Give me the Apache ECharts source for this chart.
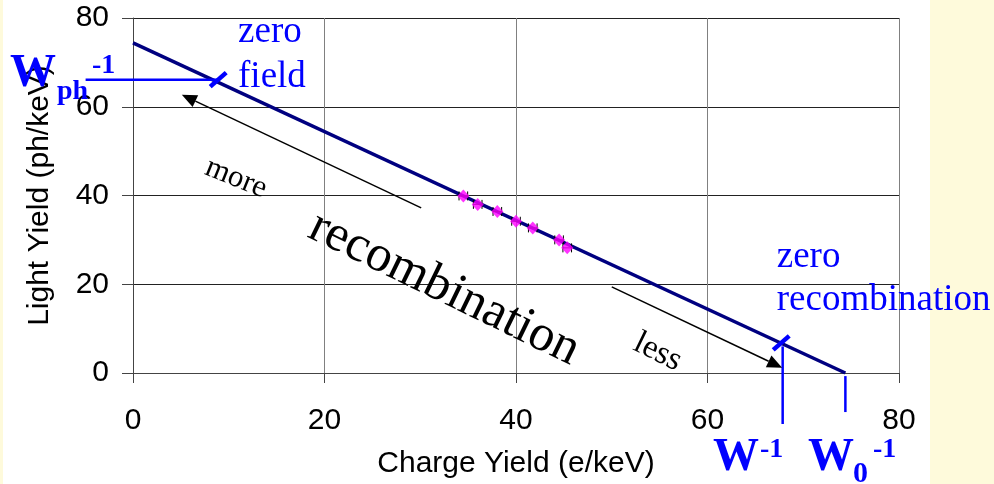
<!DOCTYPE html>
<html>
<head>
<meta charset="utf-8">
<script src="https://cdn.jsdelivr.net/npm/echarts@6/dist/echarts.min.js"></script>
<style>
  html, body { margin: 0; padding: 0; background: #ffffff; }
  #chart { width: 994px; height: 484px; }
</style>
</head>
<body>
<div id="chart"></div>
<script>
// Axis ranges and ticks
const xTicks = [0, 20, 40, 60, 80];
const yTicks = [0, 20, 40, 60, 80];

// Measured light vs charge yield points and horizontal error
const chargeYield = [34.5, 36.0, 38.05, 40.0, 41.75, 44.5, 45.35];
const lightYield  = [39.9, 38.0, 36.4, 34.2, 32.7, 30.0, 28.2];
const chargeErr   = [0.45, 0.45, 0.45, 0.45, 0.45, 0.45, 0.45];

// Anti-correlation line: intercepts on both axes
const fitX = [0, 74.4];
const fitY = [74.4, 0];

// Special points on the line: zero field and zero recombination
const zeroFieldPt = [8.9, 66.1];
const zeroRecombPt = [67.7, 6.8];

// Guide lines to the W labels [x1, y1, x2, y2]
const guideLines = [
  [-4.95, 66.1, 8.9, 66.1],
  [67.85, 6.0, 67.85, -11.5],
  [74.4, -0.7, 74.4, -8.8]
];

// Arrows [tailX, tailY, tipX, tipY]
const arrows = [
  [30.1, 37.2, 5.1, 62.7],
  [50.0, 19.4, 67.8, 1.2]
];

const SERIF = '"Liberation Serif", "Times New Roman", serif';
const SANS = '"Liberation Sans", Arial, sans-serif';
const BLUE = '#0000ff';

const chart = echarts.init(document.getElementById('chart'), null, { renderer: 'canvas' });

const points = chargeYield.map((x, i) => [x, lightYield[i], chargeErr[i]]);

const option = {
  animation: false,
  backgroundColor: '#ffffff',
  grid: { left: 133, top: 18, width: 766, height: 355, containLabel: false },
  xAxis: {
    type: 'value',
    min: xTicks[0], max: xTicks[xTicks.length - 1], interval: xTicks[1] - xTicks[0],
    name: 'Charge Yield (e/keV)',
    nameLocation: 'middle', nameGap: 76,
    nameTextStyle: { fontFamily: SANS, fontSize: 30, color: '#000' },
    axisLine: { show: true, onZero: false, lineStyle: { color: '#444', width: 1 } },
    axisTick: { show: true, inside: false, length: 10, lineStyle: { color: '#444' } },
    axisLabel: { fontFamily: SANS, fontSize: 30, color: '#000', margin: 33 },
    splitLine: { show: true, lineStyle: { color: '#808080', width: 1 } }
  },
  yAxis: {
    type: 'value',
    min: yTicks[0], max: yTicks[yTicks.length - 1], interval: yTicks[1] - yTicks[0],
    name: 'Light Yield (ph/keV)',
    nameLocation: 'middle', nameGap: 78, nameRotate: 90,
    nameTextStyle: { fontFamily: SANS, fontSize: 30, color: '#000' },
    axisLine: { show: true, onZero: false, lineStyle: { color: '#444', width: 1 } },
    axisTick: { show: true, inside: false, length: 11, lineStyle: { color: '#444' } },
    axisLabel: { fontFamily: SANS, fontSize: 30, color: '#000', margin: 24 },
    splitLine: { show: true, lineStyle: { color: '#222', width: 1 } }
  },
  series: [
    {
      type: 'line',
      data: fitX.map((x, i) => [x, fitY[i]]),
      symbol: 'none',
      lineStyle: { color: '#000080', width: 3.5 },
      z: 3
    },
    {
      type: 'custom',
      data: points,
      z: 4,
      renderItem: function (params, api) {
        const x = api.value(0), y = api.value(1), e = api.value(2);
        const pl = api.coord([x - e, y]);
        const pr = api.coord([x + e, y]);
        const c = 4.5;
        const st = { stroke: '#000', lineWidth: 1 };
        return {
          type: 'group',
          children: [
            { type: 'line', shape: { x1: pl[0], y1: pl[1], x2: pr[0], y2: pr[1] }, style: st },
            { type: 'line', shape: { x1: pl[0], y1: pl[1] - c, x2: pl[0], y2: pl[1] + c }, style: st },
            { type: 'line', shape: { x1: pr[0], y1: pr[1] - c, x2: pr[0], y2: pr[1] + c }, style: st }
          ]
        };
      }
    },
    {
      type: 'scatter',
      data: points.map(p => [p[0], p[1]]),
      symbol: 'diamond',
      symbolSize: [12, 13],
      itemStyle: { color: '#ff00ff' },
      z: 5
    },
    {
      // blue guide lines from the special points to the W labels
      type: 'custom',
      data: guideLines,
      clip: false,
      z: 6,
      renderItem: function (params, api) {
        const a = api.coord([api.value(0), api.value(1)]);
        const b = api.coord([api.value(2), api.value(3)]);
        return {
          type: 'line',
          shape: { x1: a[0], y1: a[1], x2: b[0], y2: b[1] },
          style: { stroke: BLUE, lineWidth: 2.5 }
        };
      }
    },
    {
      // short cross marks on the line at the special points
      type: 'custom',
      data: [zeroFieldPt, zeroRecombPt],
      clip: false,
      z: 7,
      renderItem: function (params, api) {
        const p = api.coord([api.value(0), api.value(1)]);
        return {
          type: 'line',
          shape: { x1: p[0] - 8, y1: p[1] + 7, x2: p[0] + 8, y2: p[1] - 7 },
          style: { stroke: BLUE, lineWidth: 4.5 }
        };
      }
    }
  ]
};

chart.setOption(option);

// Annotations placed in data coordinates
const px = (x, y) => chart.convertToPixel({ gridIndex: 0 }, [x, y]);

// text whose baseline sits at the given data point
function baselineText(x, y, text, size, opts) {
  const p = px(x, y);
  opts = opts || {};
  return {
    type: 'text',
    x: p[0],
    y: p[1] - 0.8 * size,
    z: 20,
    style: {
      text: text,
      fill: opts.fill || BLUE,
      font: (opts.bold ? 'bold ' : '') + size + 'px ' + (opts.family || SERIF),
      align: 'left',
      verticalAlign: 'top'
    }
  };
}

function rotatedText(x, y, text, size, angleDeg) {
  const p = px(x, y);
  return {
    type: 'text',
    x: p[0],
    y: p[1],
    rotation: -angleDeg * Math.PI / 180,
    z: 20,
    style: {
      text: text,
      fill: '#000',
      font: size + 'px ' + SERIF,
      align: 'center',
      verticalAlign: 'middle'
    }
  };
}

function arrow(a) {
  const t = px(a[0], a[1]);
  const h = px(a[2], a[3]);
  const dx = h[0] - t[0], dy = h[1] - t[1];
  const len = Math.sqrt(dx * dx + dy * dy);
  const ux = dx / len, uy = dy / len;
  const hl = 15, hw = 6.5;
  const bx = h[0] - ux * hl, by = h[1] - uy * hl;
  return [
    { type: 'line', z: 15, shape: { x1: t[0], y1: t[1], x2: bx, y2: by }, style: { stroke: '#000', lineWidth: 1.5 } },
    { type: 'polygon', z: 15, shape: { points: [[h[0], h[1]], [bx - uy * hw, by + ux * hw], [bx + uy * hw, by - ux * hw]] }, style: { fill: '#000' } }
  ];
}

const graphics = [
  // tinted side margins
  { type: 'rect', z: -10, shape: { x: 930, y: 0, width: 64, height: 484 }, style: { fill: '#fefadb' } },
  { type: 'rect', z: -10, shape: { x: 0, y: 0, width: 3, height: 484 }, style: { fill: '#fefadb' } },

  baselineText(10.97, 74.37, 'zero', 37),
  baselineText(10.97, 64.23, 'field', 37),
  baselineText(67.23, 23.66, 'zero', 37),
  baselineText(67.23, 13.81, 'recombination', 37),

  baselineText(-12.85, 64.23, 'W', 46, { bold: true }),
  baselineText(-4.28, 67.38, '-1', 28, { bold: true }),
  baselineText(-7.94, 61.52, 'ph', 28, { bold: true }),

  baselineText(60.57, -22.24, 'W', 46, { bold: true }),
  baselineText(65.48, -19.15, '-1', 28, { bold: true }),
  baselineText(70.5, -22.24, 'W', 46, { bold: true }),
  baselineText(75.2, -24.8, '0', 30, { bold: true }),
  baselineText(77.28, -19.15, '-1', 28, { bold: true }),

  rotatedText(10.76, 43.9, 'more', 31, 22),
  rotatedText(32.5, 19.0, 'recombination', 51, 26),
  rotatedText(54.8, 4.7, 'less', 33, 26)
].concat(arrow(arrows[0]), arrow(arrows[1]));

chart.setOption({ graphic: graphics });
</script>
</body>
</html>
